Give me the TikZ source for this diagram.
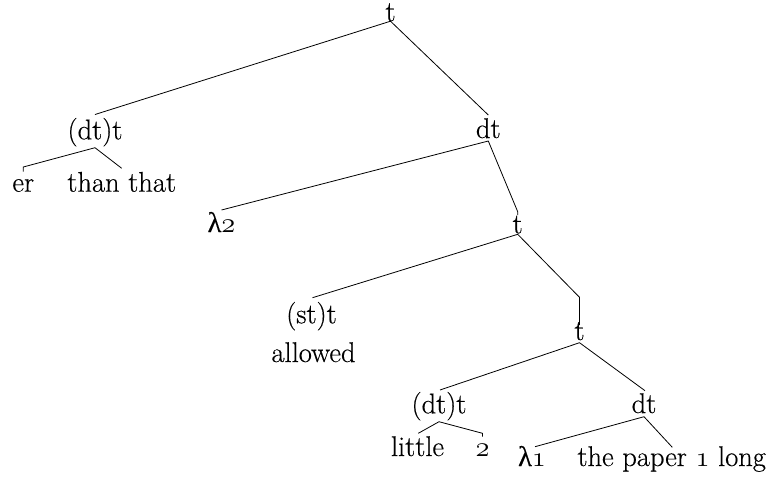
\RequirePackage{fix-cm}
\documentclass[tikz,border=0pt]{standalone}
\usepackage{fontspec}
\setmainfont{Latin Modern Roman}[FakeBold=0.35]
\newfontfamily\greekfont{Liberation Serif}[FakeBold=0.2]
% upright lambda and old-style figures
\newcommand{\lam}{{\greekfont λ}}
\newcommand{\osf}[1]{$\mathnormal{#1}$}
\begin{document}
\begin{tikzpicture}[x=1pt,y=-1pt,
  lbl/.style={inner sep=0pt, outer sep=0pt, anchor=base,
              font=\fontsize{28.5}{33}\selectfont},
  edge/.style={line width=0.8pt, line join=miter}]
\useasboundingbox (0,0) rectangle (774,483);

% tree labels, placed by their baselines
\node[lbl] (t0)      at (390.5,21)   {t};
\node[lbl] (dtA)     at (95,139.3)   {(dt)t};
\node[lbl] (er)      at (23.3,191.7) {er};
\node[lbl] (than)    at (121.7,191.7){than that};
\node[lbl] (dtB)     at (488.3,138)  {dt};
\node[lbl] (lamB)    at (221.5,232)  {\lam\osf{2}};
\node[lbl] (t1)      at (517.7,233.3){t};
\node[lbl] (stt)     at (311.5,323.3){(st)t};
\node[lbl] (allowed) at (313.5,362)  {allowed};
\node[lbl] (t2)      at (579.5,340)  {t};
\node[lbl] (dtC)     at (439,413.3)  {(dt)t};
\node[lbl] (dtD)     at (644,413)    {dt};
\node[lbl] (little)  at (417.5,456)  {little};
\node[lbl] (two)     at (482.5,456)  {\osf{2}};
\node[lbl] (lamA)    at (532,466)    {\lam\osf{1}};
\node[lbl] (paper)   at (671.7,466)  {the paper \osf{1} long};

% branches
\draw[edge] ([yshift=24.8pt]dtA.base) -- ([yshift=-0.2pt]t0.base) -- ([yshift=23pt]dtB.base);

\draw[edge] ([yshift=20pt]er.base) -- ([yshift=24.7pt]er.base)
  -- ([yshift=-8.4pt]dtA.base) -- ([yshift=23.4pt]than.base);

\draw[edge] ([yshift=22pt]lamB.base) -- ([yshift=-3pt]dtB.base)
  -- ([yshift=21.6pt]t1.base) -- ([yshift=18.3pt]t1.base);

\draw[edge] ([xshift=1pt,yshift=25.6pt]stt.base) -- ([yshift=-1pt]t1.base)
  -- ([yshift=42.7pt]t2.base) -- ([yshift=15pt]t2.base);

\draw[edge] ([xshift=1pt,yshift=23.3pt]dtC.base) -- ([yshift=-2.7pt]t2.base)
  -- ([xshift=1pt,yshift=22.3pt]dtD.base);

\draw[edge] ([xshift=0.8pt,yshift=22.7pt]little.base) -- ([yshift=-8.4pt]dtC.base)
  -- ([yshift=22.7pt]two.base) -- ([yshift=19.3pt]two.base);

\draw[edge] ([xshift=3pt,yshift=19.3pt]lamA.base) -- ([yshift=-3.7pt]dtD.base)
  -- ([xshift=0.6pt,yshift=18.7pt]paper.base);
\end{tikzpicture}
\end{document}
